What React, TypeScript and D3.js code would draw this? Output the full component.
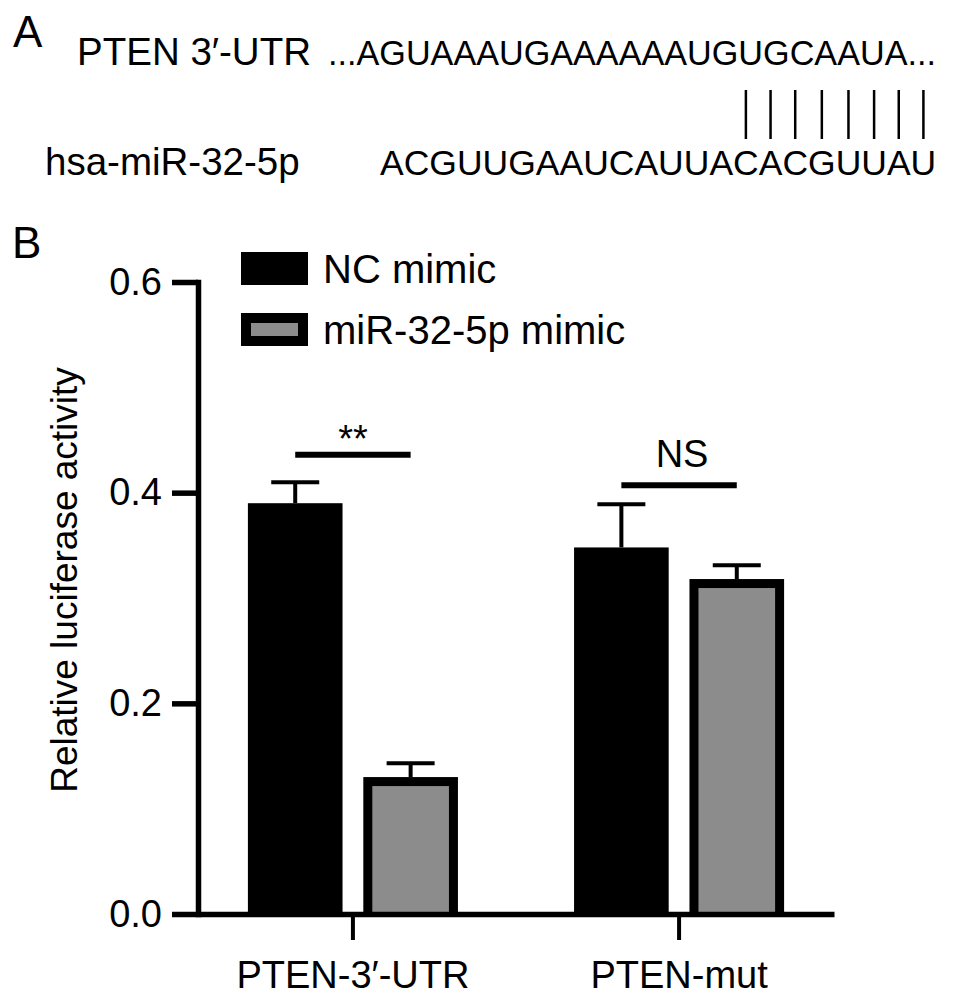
import React, { useEffect, useLayoutEffect, useRef, useState } from 'react'
import { axisBottom, axisLeft, format, scaleBand, scaleLinear, select } from 'd3'

// luciferase readings, one value per category
const categories = ['PTEN-3′-UTR', 'PTEN-mut']
const seriesNames = ['NC mimic', 'miR-32-5p mimic']
const ncMimicMeans = [0.39, 0.348]
const ncMimicErrors = [0.02, 0.041]
const mirMimicMeans = [0.13, 0.318]
const mirMimicErrors = [0.013, 0.013]
const yTickValues = [0, 0.2, 0.4, 0.6]

// significance brackets
const sigLabels = ['**', 'NS']
const sigLevels = [0.436, 0.407]

// panel A sequences
const utrLabel = 'PTEN 3′-UTR'
const utrSequence = '...AGUAAAUGAAAAAAUGUGCAAUA...'
const mirLabel = 'hsa-miR-32-5p'
const mirSequence = 'ACGUUGAAUCAUUACACGUUAU'
const pairedBases = [14, 15, 16, 17, 18, 19, 20, 21]

const FONT = '"Liberation Sans", Arial, Helvetica, sans-serif'
const seriesColors = ['#000000', '#8c8c8c']
const AXIS_W = 5.5

const YAxis = ({ scale, x }) => {
	const ref = useRef(null)
	useEffect(() => {
		const g = select(ref.current)
		g.call(axisLeft(scale).tickValues(yTickValues).tickSize(26).tickSizeOuter(0).tickPadding(10).tickFormat(format('.1f')))
		g.attr('font-size', 38).attr('font-family', FONT)
		g.select('.domain').attr('stroke-width', AXIS_W).attr('stroke-linecap', 'square')
		g.selectAll('.tick line').attr('stroke-width', AXIS_W)
		g.selectAll('.tick text').attr('fill', '#000')
	}, [scale])
	return <g ref={ref} transform={`translate(${x},0)`} />
}

const XAxis = ({ scale, y }) => {
	const ref = useRef(null)
	useEffect(() => {
		const g = select(ref.current)
		g.call(axisBottom(scale).tickSize(26).tickSizeOuter(0).tickPadding(21))
		g.attr('font-size', 38).attr('font-family', FONT)
		g.select('.domain').attr('stroke-width', AXIS_W)
		g.selectAll('.tick line').attr('stroke-width', 4)
		g.selectAll('.tick text').attr('fill', '#000')
	}, [scale])
	return <g ref={ref} transform={`translate(0,${y})`} />
}

const PanelA = () => {
	const mirRef = useRef(null)
	const [pairX, setPairX] = useState([])

	// pairing ticks sit over the matching bases of the miRNA
	useLayoutEffect(() => {
		const el = mirRef.current
		if (!el) return
		setPairX(pairedBases.map(i => {
			const b = el.getExtentOfChar(i)
			return b.x + b.width / 2
		}))
	}, [])

	return (
		<g fontFamily={FONT} fill="#000">
			<text x={13} y={47} fontSize={44}>A</text>
			<text x={77} y={65} fontSize={38.5}>{utrLabel}</text>
			<text x={328} y={65} fontSize={34.2}>{utrSequence}</text>
			{pairX.map((px, i) => (
				<line key={`pair-${i}`} x1={px} x2={px} y1={90} y2={139} stroke="#000" strokeWidth={2.5} />
			))}
			<text x={45} y={175} fontSize={38.5}>{mirLabel}</text>
			<text ref={mirRef} x={380} y={175} fontSize={35.5}>{mirSequence}</text>
		</g>
	)
}

export default function App() {
	const width = 969
	const height = 1002
	const plot = { left: 198, right: 834, top: 282, bottom: 914 }

	const y = scaleLinear().domain([0, 0.6]).range([plot.bottom, plot.top])
	const x0 = scaleBand().domain(categories).range([plot.left, plot.right]).paddingInner(0.356).paddingOuter(0.153)
	const x1 = scaleBand().domain(seriesNames).range([0, x0.bandwidth()]).paddingInner(0.18)
	const bw = x1.bandwidth()

	const rows = categories.map((c, i) => ({
		category: c,
		values: [
			{ series: seriesNames[0], mean: ncMimicMeans[i], err: ncMimicErrors[i] },
			{ series: seriesNames[1], mean: mirMimicMeans[i], err: mirMimicErrors[i] },
		],
	}))

	const border = 9
	const capW = 48

	return (
		<svg width={width} height={height} style={{ position: 'absolute', left: 0, top: 0, background: '#fff' }}>
			<rect width={width} height={height} fill="#fff" />
			<PanelA />

			<text x={12} y={258} fontSize={44} fontFamily={FONT}>B</text>

			{/* bars */}
			{rows.map(row => (
				<g key={row.category} transform={`translate(${x0(row.category)},0)`}>
					{row.values.map((d, j) => {
						const bx = x1(d.series)
						const top = y(d.mean)
						const cx = bx + bw / 2
						return (
							<g key={d.series}>
								<line x1={cx} x2={cx} y1={top} y2={y(d.mean + d.err)} stroke="#000" strokeWidth={4} />
								<line x1={cx - capW / 2} x2={cx + capW / 2} y1={y(d.mean + d.err)} y2={y(d.mean + d.err)} stroke="#000" strokeWidth={4} />
								<rect x={bx} y={top} width={bw} height={plot.bottom - top} fill="#000" />
								{j === 1 && (
									<rect x={bx + border} y={top + border} width={bw - border * 2} height={plot.bottom - top - border} fill={seriesColors[1]} />
								)}
							</g>
						)
					})}
				</g>
			))}

			{/* significance */}
			{rows.map((row, i) => {
				const xa = x0(row.category) + x1(seriesNames[0]) + bw / 2
				const xb = x0(row.category) + x1(seriesNames[1]) + bw / 2
				const ly = y(sigLevels[i])
				const isStar = sigLabels[i] === '**'
				return (
					<g key={`sig-${row.category}`}>
						<line x1={xa} x2={xb} y1={ly} y2={ly} stroke="#000" strokeWidth={6} />
						<text
							x={isStar ? (xa + xb) / 2 : (xa + xb) / 2 + 3}
							y={isStar ? ly - 3 : ly - 18}
							textAnchor="middle"
							fontSize={38}
							fontFamily={FONT}
						>
							{sigLabels[i]}
						</text>
					</g>
				)
			})}

			<YAxis scale={y} x={plot.left} />
			<XAxis scale={x0} y={plot.bottom} />

			<text
				transform={`translate(77, 580) rotate(-90)`}
				textAnchor="middle"
				fontSize={37}
				fontFamily={FONT}
			>
				Relative luciferase activity
			</text>

			{/* legend */}
			{seriesNames.map((s, i) => (
				<g key={`legend-${s}`} transform={`translate(241, ${252 + i * 61})`}>
					<rect width={67} height={33} fill="#000" />
					{i === 1 && <rect x={10} y={10} width={47} height={13} fill={seriesColors[1]} />}
					<text x={82} y={16.5} dy="0.35em" fontSize={40} fontFamily={FONT}>{s}</text>
				</g>
			))}
		</svg>
	)
}
